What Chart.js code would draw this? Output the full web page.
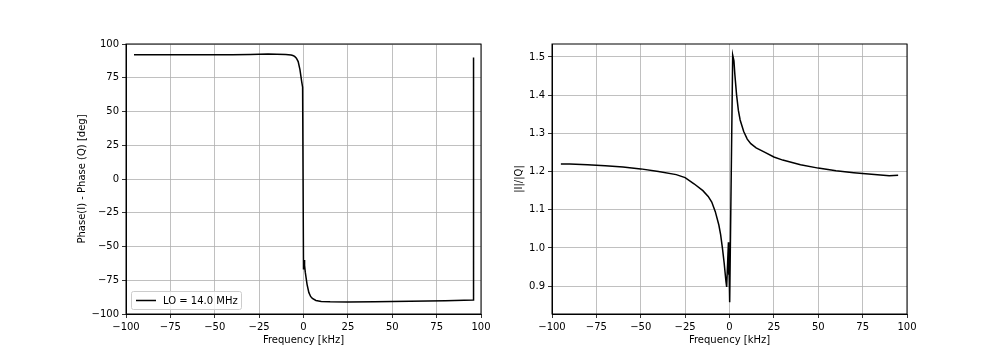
<!DOCTYPE html>
<html lang="en">
<head>
  <meta charset="UTF-8" />
  <title>IQ phase / amplitude imbalance</title>
  <script src="https://cdn.jsdelivr.net/npm/chart.js"></script>
  <style>
    body { margin: 0; background: #fff; }
    .panel { position: absolute; top: 0; width: 504px; height: 360px; }
    #izq { left: 0; }
    #der { left: 504px; }
  </style>
</head>
<body>
  <div class="panel" id="izq"><canvas id="graficoFase"></canvas></div>
  <div class="panel" id="der"><canvas id="graficoRatio"></canvas></div>

  <script>
    // datos
    const phaseFreq = [-95.5, -90, -80, -70, -60, -50, -40, -30, -20, -15, -10, -7, -6, -5, -4, -3, -2, -1, -0.5, 0, 0.3, 0.6, 1, 2, 3, 4, 5, 7, 10, 15, 25, 40, 60, 80, 95.7, 95.8];
    const phaseDeg = [92, 92, 92, 92, 92, 92, 92, 92.2, 92.5, 92.4, 92.2, 91.8, 91.5, 90.8, 89.5, 87, 81, 72, 68, -67, -60, -64, -69, -78, -84, -87, -88.5, -90, -90.7, -91, -91.2, -91, -90.6, -90.2, -89.6, 90];

    const ratioFreq = [-95, -90, -80, -70, -60, -50, -40, -30, -25, -20, -15, -12, -10, -8, -6, -5, -4, -3, -2, -1.6, -0.6, -0.5, -0.3, 0.1, 1.8, 2.5, 3, 4, 5, 6, 8, 10, 12, 15, 20, 25, 30, 40, 50, 60, 70, 80, 90, 95];
    const ratioVal = [1.220, 1.220, 1.218, 1.215, 1.212, 1.207, 1.200, 1.192, 1.184, 1.168, 1.150, 1.135, 1.120, 1.095, 1.060, 1.035, 1.000, 0.960, 0.912, 0.898, 1.015, 0.930, 0.990, 0.858, 1.505, 1.490, 1.455, 1.400, 1.360, 1.335, 1.305, 1.285, 1.273, 1.262, 1.250, 1.238, 1.230, 1.218, 1.209, 1.202, 1.197, 1.193, 1.189, 1.190];

    const freqTicks = [-100, -75, -50, -25, 0, 25, 50, 75, 100];
    const phaseTicks = [-100, -75, -50, -25, 0, 25, 50, 75, 100];
    const ratioTicks = [0.9, 1.0, 1.1, 1.2, 1.3, 1.4, 1.5];
    const legendLabel = 'LO = 14.0 MHz';

    Chart.defaults.font.family = 'DejaVu Sans';
    Chart.defaults.font.size = 10;
    Chart.defaults.color = '#000';

    const menos = v => String(v).replace('-', '\u2212');

    // marco completo como en matplotlib
    const marco = {
      id: 'marco',
      afterDraw(chart) {
        const { ctx, chartArea: a } = chart;
        ctx.save();
        ctx.strokeStyle = '#000';
        ctx.lineWidth = 1;
        ctx.strokeRect(a.left, a.top, a.right - a.left, a.bottom - a.top);
        ctx.restore();
      }
    };

    // leyenda dentro del area, abajo a la izquierda
    const leyenda = {
      id: 'leyenda',
      afterDraw(chart) {
        const { ctx, chartArea: a } = chart;
        const x = a.left + 5, y = a.bottom - 23, w = 110, h = 18;
        ctx.save();
        ctx.fillStyle = 'rgba(255,255,255,0.8)';
        ctx.strokeStyle = '#cccccc';
        ctx.lineWidth = 1;
        ctx.beginPath();
        ctx.roundRect(x + 0.5, y + 0.5, w, h, 2);
        ctx.fill();
        ctx.stroke();
        ctx.strokeStyle = '#000';
        ctx.lineWidth = 1.5;
        ctx.beginPath();
        ctx.moveTo(x + 5, y + 9.5);
        ctx.lineTo(x + 25, y + 9.5);
        ctx.stroke();
        ctx.fillStyle = '#000';
        ctx.font = '10px "DejaVu Sans"';
        ctx.textBaseline = 'middle';
        ctx.fillText(legendLabel, x + 32, y + 10);
        ctx.restore();
      }
    };

    function opciones(yMin, yMax, yTicks, yTitulo, yFmt, padL, yWidth, padR) {
      return {
        responsive: true,
        maintainAspectRatio: false,
        animation: false,
        layout: { padding: { left: padL, right: padR, top: 44, bottom: 14 } },
        plugins: { legend: { display: false }, tooltip: { enabled: false } },
        elements: { point: { radius: 0 } },
        scales: {
          x: {
            type: 'linear', min: -100, max: 100,
            afterBuildTicks: s => { s.ticks = freqTicks.map(v => ({ value: v })); },
            afterFit: s => { s.height = 32; },
            ticks: { callback: v => menos(v), padding: 3, maxRotation: 0 },
            grid: { color: '#b0b0b0', lineWidth: 0.8, tickLength: 4, tickColor: '#000' },
            border: { color: '#000' },
            title: { display: true, text: 'Frequency [kHz]', padding: 0 }
          },
          y: {
            type: 'linear', min: yMin, max: yMax,
            afterBuildTicks: s => { s.ticks = yTicks.map(v => ({ value: v })); },
            afterFit: s => { s.width = yWidth; },
            ticks: { callback: v => yFmt(v), padding: 3 },
            grid: { color: '#b0b0b0', lineWidth: 0.8, tickLength: 4, tickColor: '#000' },
            border: { color: '#000' },
            title: { display: true, text: yTitulo, padding: 0 }
          }
        }
      };
    }

    new Chart(document.getElementById('graficoFase'), {
      type: 'scatter',
      data: {
        datasets: [{
          label: legendLabel,
          data: phaseFreq.map((f, i) => ({ x: f, y: phaseDeg[i] })),
          showLine: true,
          borderColor: '#000',
          borderWidth: 1.5
        }]
      },
      options: opciones(-100, 100, phaseTicks, 'Phase(I) - Phase (Q) [deg]', v => menos(v), 76, 50, 23),
      plugins: [marco, leyenda]
    });

    new Chart(document.getElementById('graficoRatio'), {
      type: 'scatter',
      data: {
        datasets: [{
          label: 'ratio',
          data: ratioFreq.map((f, i) => ({ x: f, y: ratioVal[i] })),
          showLine: true,
          borderColor: '#000',
          borderWidth: 1.5
        }]
      },
      options: opciones(0.827, 1.534, ratioTicks, '|I|/|Q|', v => v.toFixed(1), 9, 39, 101),
      plugins: [marco]
    });
  </script>
</body>
</html>
